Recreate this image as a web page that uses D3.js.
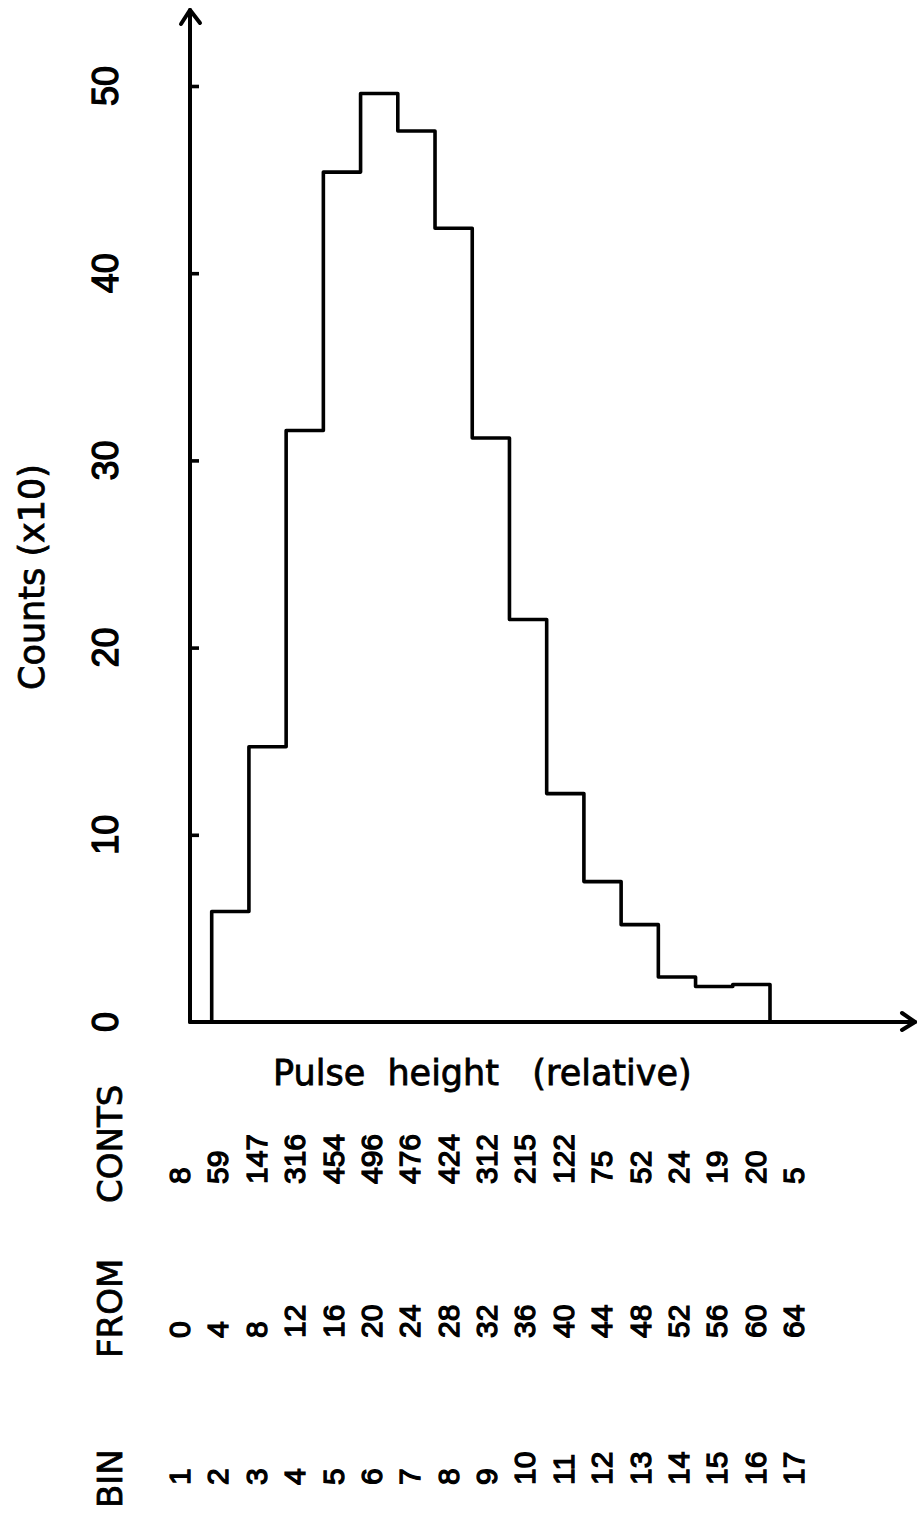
<!DOCTYPE html>
<html>
<head>
<meta charset="utf-8">
<script src="https://cdn.jsdelivr.net/npm/d3@7"></script>
<style>
  html, body { margin: 0; padding: 0; background: #fff; }
  svg { display: block; }
  .word { font-family: "DejaVu Sans", sans-serif; fill: #000; stroke: #000; stroke-width: 0.8px; }
  .num { font-family: "Liberation Sans", Arial, sans-serif; fill: #000; stroke: #000; stroke-width: 1.3px; }
</style>
</head>
<body>
<svg id="chart"></svg>
<script>
// table printed under the plot
var bins = [1, 2, 3, 4, 5, 6, 7, 8, 9, 10, 11, 12, 13, 14, 15, 16, 17];
var binFrom = [0, 4, 8, 12, 16, 20, 24, 28, 32, 36, 40, 44, 48, 52, 56, 60, 64];
var counts = [8, 59, 147, 316, 454, 496, 476, 424, 312, 215, 122, 75, 52, 24, 19, 20, 5];
var binWidth = 4;
var yTicks = [0, 10, 20, 30, 40, 50];

var width = 920, height = 1527;

var svg = d3.select("#chart")
    .attr("width", width)
    .attr("height", height);

var x = d3.scaleLinear().domain([4, 64]).range([211.7, 770]);
var y = d3.scaleLinear().domain([0, 50]).range([1022, 86]);

var x0 = 190, xEnd = 915, yTop = 10;  // axis ends (arrow tips)

// histogram: only bins 2..16 are plotted (first and last one are left out)
var shown = d3.range(1, 16).map(function (i) {
    return { from: binFrom[i], v: counts[i] / 10 };
});
var pts = [[shown[0].from, 0]];
shown.forEach(function (d) { pts.push([d.from, d.v]); });
pts.push([shown[shown.length - 1].from + binWidth, shown[shown.length - 1].v]);
pts.push([shown[shown.length - 1].from + binWidth, 0]);

var line = d3.line()
    .x(function (d) { return x(d[0]); })
    .y(function (d) { return y(d[1]); })
    .curve(d3.curveStepAfter);

svg.append("path")
    .attr("d", line(pts))
    .attr("fill", "none")
    .attr("stroke", "#000")
    .attr("stroke-width", 3.6)
    .attr("stroke-linejoin", "round");

// axes
var yAxis = d3.axisRight(y)
    .tickValues(yTicks.filter(function (t) { return t > 0; }))
    .tickSize(9)
    .tickFormat("");

var gy = svg.append("g")
    .attr("transform", "translate(" + x0 + ",0)")
    .call(yAxis);
gy.select(".domain").remove();
gy.selectAll(".tick line").attr("stroke", "#000").attr("stroke-width", 3.6);

var axes = svg.append("g")
    .attr("fill", "none")
    .attr("stroke", "#000")
    .attr("stroke-width", 4)
    .attr("stroke-linejoin", "round")
    .attr("stroke-linecap", "round");

axes.append("path").attr("d", "M" + x0 + "," + y(0) + "V" + yTop);
axes.append("path").attr("d", "M" + x0 + "," + y(0) + "H" + xEnd);
axes.append("path")  // arrow up
    .attr("d", "M" + (x0 - 9) + "," + (yTop + 14) + "L" + x0 + "," + yTop + "L" + (x0 + 10) + "," + (yTop + 13));
axes.append("path")  // arrow right
    .attr("d", "M" + (xEnd - 13) + "," + (y(0) - 9) + "L" + xEnd + "," + y(0) + "L" + (xEnd - 13) + "," + (y(0) + 8));

// tick labels, turned like the rest of the page
svg.append("g")
    .selectAll("text")
    .data(yTicks)
    .enter()
    .append("text")
    .attr("class", "num")
    .attr("transform", function (d) { return "translate(118," + y(d) + ") rotate(-90)"; })
    .attr("text-anchor", "middle")
    .style("font-size", "36px")
    .text(function (d) { return d; });

svg.append("text")
    .attr("class", "word")
    .attr("transform", "translate(44,577) rotate(-90)")
    .attr("text-anchor", "middle")
    .style("font-size", "35px")
    .text("Counts (x10)");

svg.append("text")
    .attr("class", "word")
    .attr("x", 273)
    .attr("y", 1085)
    .attr("xml:space", "preserve")
    .style("white-space", "pre")
    .style("font-size", "35px")
    .text("Pulse  height   (relative)");

// table: one row per field, every entry written sideways
var rows = [
    { name: "CONTS", values: counts },
    { name: "FROM", values: binFrom },
    { name: "BIN", values: bins }
];
var rowBase = [1184, 1338, 1485];
var labelBase = [1203, 1358, 1508];

var col = d3.scalePoint().domain(bins).range([179, 793]);

rows.forEach(function (r, k) {
    var g = svg.append("g");
    g.append("text")
        .attr("class", "word")
        .attr("transform", "translate(122," + labelBase[k] + ") rotate(-90)")
        .style("font-size", "34px")
        .text(r.name);

    g.selectAll("text.num")
        .data(r.values)
        .enter()
        .append("text")
        .attr("class", "num")
        .attr("transform", function (d, i) {
            return "translate(" + (col(bins[i]) + 11) + "," + rowBase[k] + ") rotate(-90)";
        })
        .style("font-size", "30px")
        .text(function (d) { return d; });
});
</script>
</body>
</html>
